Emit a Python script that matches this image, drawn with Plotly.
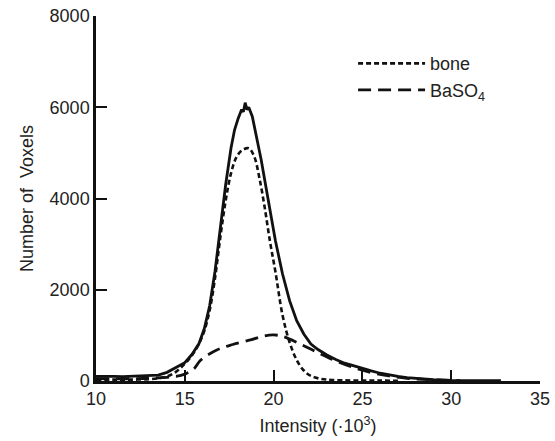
import plotly.graph_objects as go

# Total histogram (solid)
total_x = [10.0, 10.5, 11.0, 11.5, 12.0, 12.5, 13.0, 13.5, 14.0, 14.5, 15.0, 15.4, 15.8, 16.1,
           16.4, 16.7, 17.0, 17.3, 17.6, 17.8, 18.0, 18.2, 18.3, 18.4, 18.5, 18.6, 18.8, 19.0,
           19.3, 19.7, 20.1, 20.5, 20.9, 21.3, 21.7, 22.1, 22.5, 23.0, 23.5, 24.0, 24.5, 25.0,
           25.5, 26.0, 26.5, 27.0, 27.5, 28.0, 28.5, 29.0, 30.0, 31.0, 32.0, 32.8]
total_y = [100, 105, 100, 95, 100, 105, 110, 130, 190, 290, 400, 580, 820, 1150,
           1650, 2400, 3350, 4300, 5100, 5500, 5750, 5950, 5900, 6100, 5950, 6000, 5800, 5450,
           4850, 3960, 3080, 2350, 1760, 1320, 1030, 810, 690, 570, 470, 390, 330, 270,
           220, 170, 130, 100, 75, 55, 38, 28, 15, 10, 6, 5]

# Bone component (dotted)
bone_x = [10, 11, 12, 13, 13.5, 14, 14.5, 15, 15.4, 15.8, 16.1, 16.4, 16.7, 17.0, 17.3, 17.6,
          17.9, 18.2, 18.6, 18.9, 19.2, 19.5, 19.8, 20.1, 20.5, 20.9, 21.3, 21.7, 22.1, 22.5,
          23.0, 24, 25, 26, 27]
bone_y = [30, 30, 30, 40, 60, 100, 200, 380, 560, 820, 1100, 1550, 2250, 3150, 3950, 4550,
          4900, 5050, 5100, 4930, 4450, 3800, 3050, 2400, 1450, 850, 460, 230, 110, 60,
          30, 15, 10, 8, 5]

# BaSO4 component (dashed)
baso4_x = [10, 12, 13, 14, 14.5, 15, 15.5, 15.9, 16.8, 17.7, 18.7, 19.5, 20.0, 20.5, 21.5,
           22.5, 23.5, 24.5, 25.5, 26.5, 27.5, 28.5, 29.5, 30.5]
baso4_y = [50, 50, 60, 80, 100, 150, 260, 460, 680, 800, 900, 990, 1010, 980, 810,
           620, 440, 295, 185, 110, 60, 35, 20, 10]

x_ticks = [10, 15, 20, 25, 30, 35]
y_ticks = [0, 2000, 4000, 6000, 8000]

fig = go.Figure()
fig.add_trace(go.Scatter(x=total_x, y=total_y, mode="lines", showlegend=False,
                         line=dict(color="#111111", width=2.8)))
fig.add_trace(go.Scatter(x=bone_x, y=bone_y, mode="lines", name="bone",
                         line=dict(color="#111111", width=2.6, dash="5px,3px", shape="spline")))
fig.add_trace(go.Scatter(x=baso4_x, y=baso4_y, mode="lines", name="BaSO<sub>4</sub>",
                         line=dict(color="#111111", width=2.8, dash="13px,7px", shape="spline")))

font_family = "Liberation Sans, Arial, Helvetica, sans-serif"
fig.update_layout(
    width=555, height=441,
    margin=dict(l=96, r=15, t=16, b=60),
    paper_bgcolor="white", plot_bgcolor="white",
    font=dict(family=font_family, color="#222222", size=18),
    legend=dict(x=0.579, y=0.92, xanchor="left", yanchor="top", itemwidth=67,
                bgcolor="rgba(0,0,0,0)", font=dict(size=18)),
    xaxis=dict(range=[10, 35], tickvals=x_ticks, ticks="inside", ticklen=11, tickwidth=2,
               tickcolor="#111111", showline=True, linecolor="#111111", linewidth=2.5,
               showgrid=False, zeroline=False, tickfont=dict(size=18), automargin=False,
               title=dict(text="Intensity (·10<sup>3</sup>)", font=dict(size=18), standoff=12)),
    yaxis=dict(range=[0, 8000], tickvals=y_ticks, ticks="inside", ticklen=11, tickwidth=2,
               tickcolor="#111111", showline=True, linecolor="#111111", linewidth=2.5,
               showgrid=False, zeroline=False, tickfont=dict(size=18), automargin=False,
               title=dict(text="Number of\u00a0\u00a0Voxels", font=dict(size=18), standoff=12)),
)
fig.write_html("out.html", config={"displayModeBar": False},
               post_script="document.body.style.margin='0';")
